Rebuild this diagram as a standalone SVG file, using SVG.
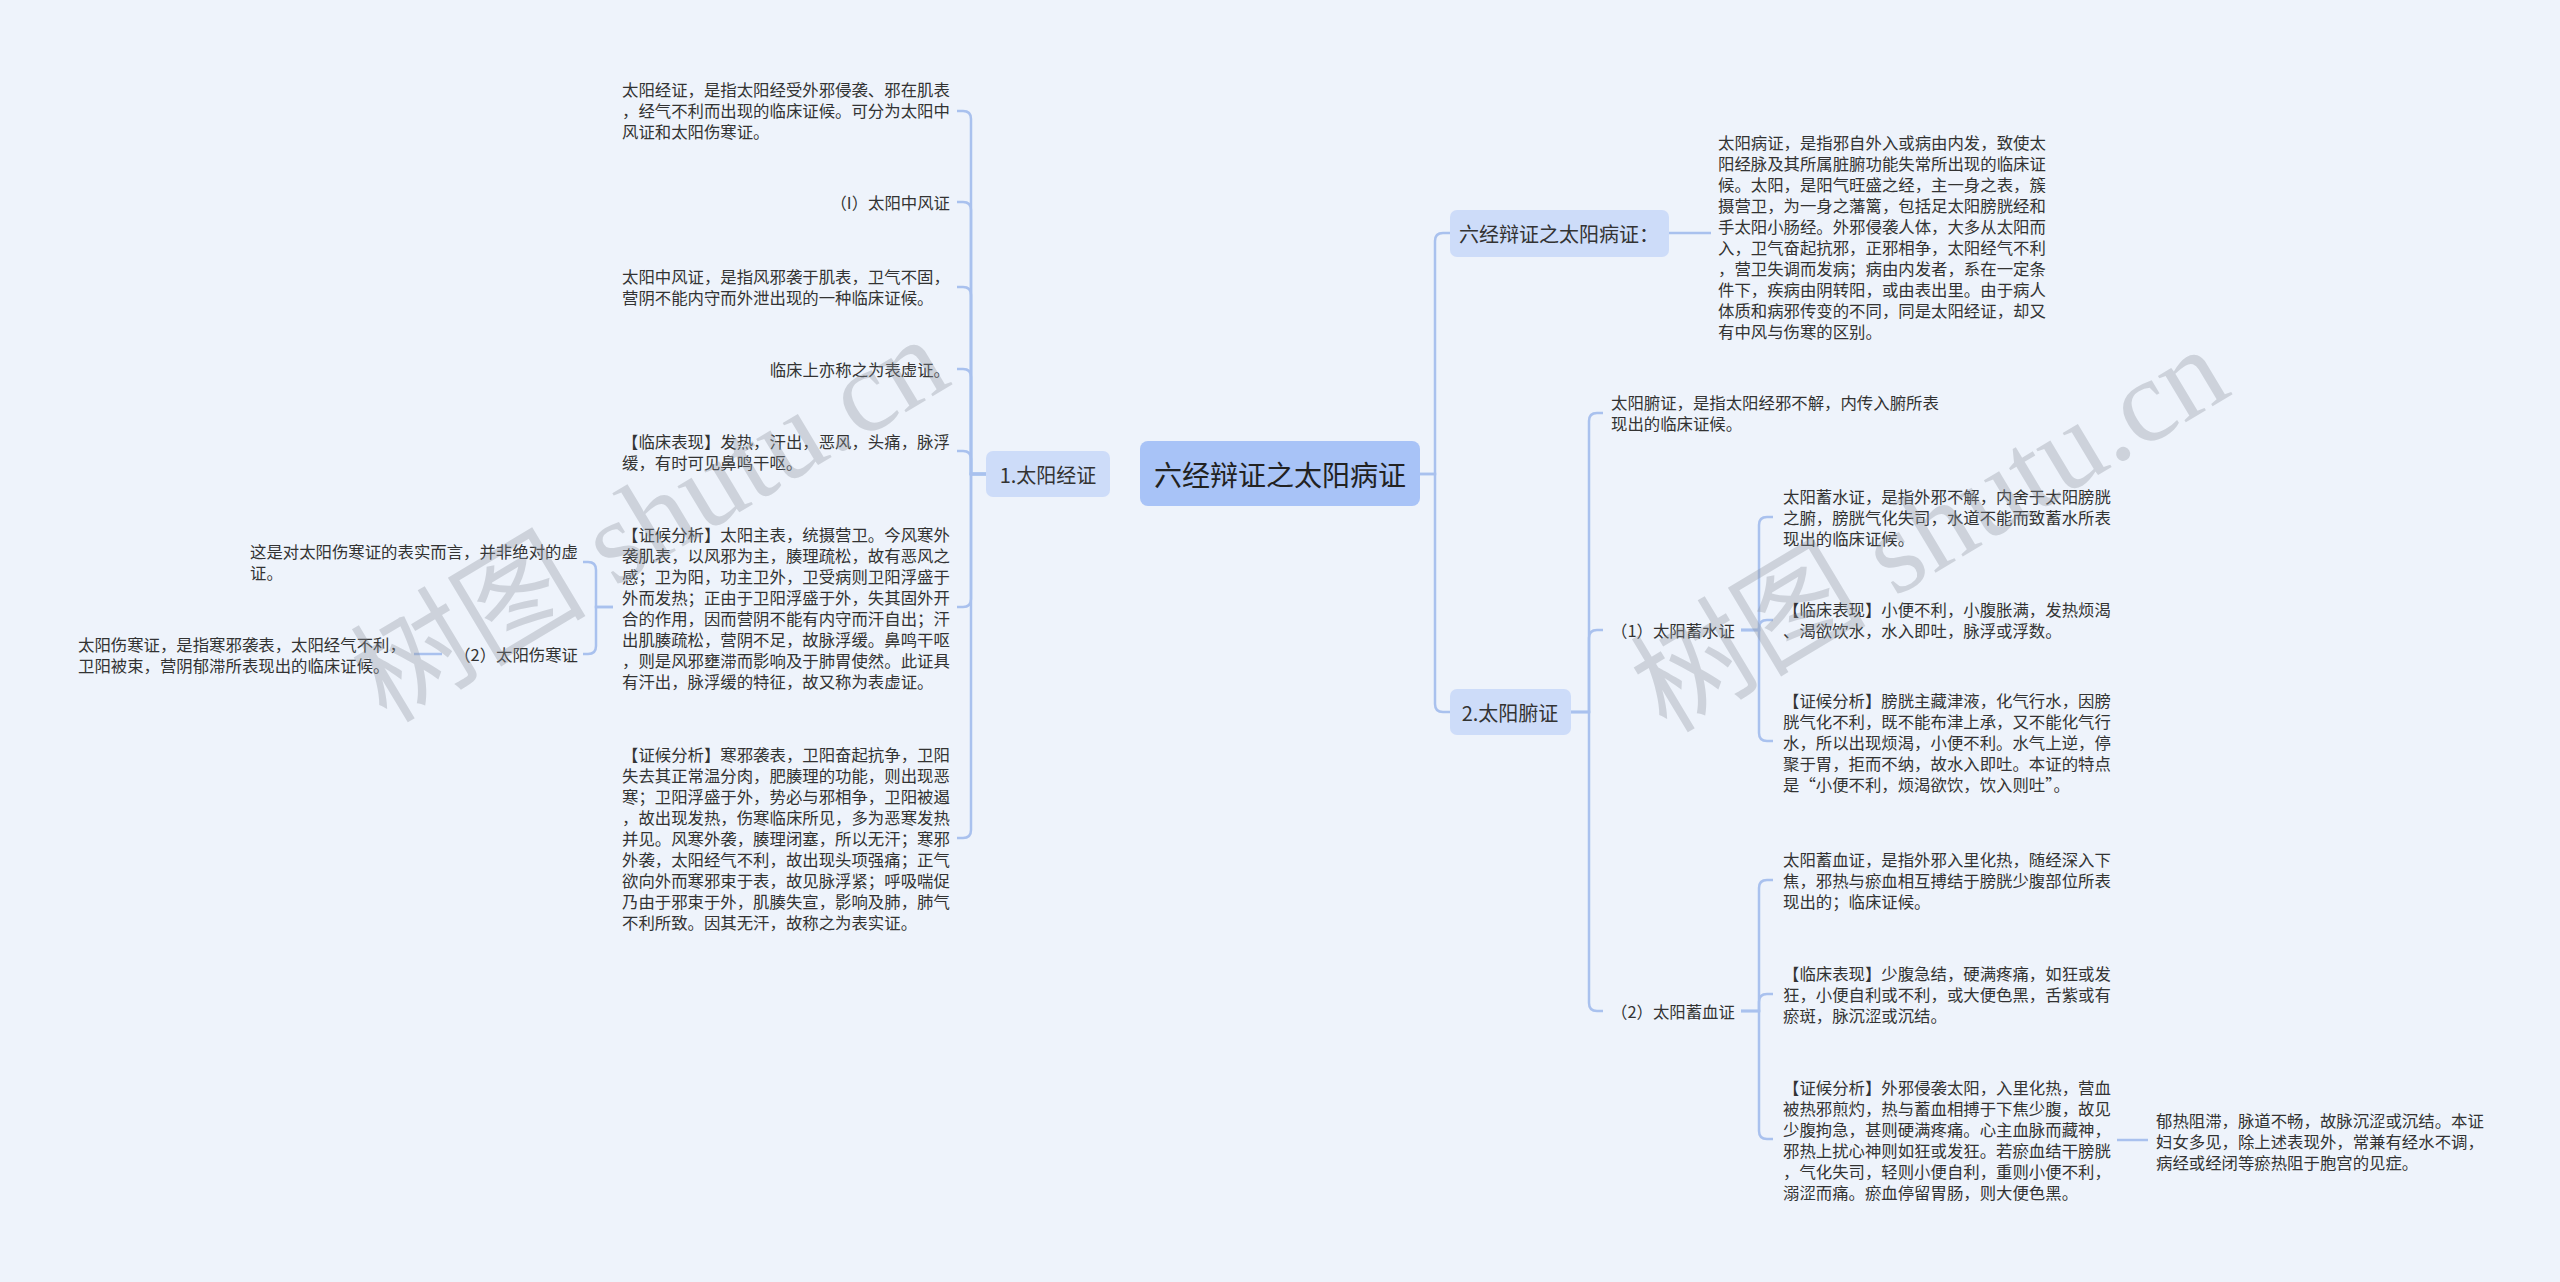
<svg xmlns="http://www.w3.org/2000/svg" width="2560" height="1282" viewBox="0 0 2560 1282">
<style>
.t{font-family:"Noto Sans CJK SC","Liberation Sans",sans-serif;font-size:16.4px;fill:#333;dominant-baseline:central}
.e{text-anchor:end}
.n{font-family:"Noto Sans CJK SC","Liberation Sans",sans-serif;font-size:20px;fill:#333;dominant-baseline:central;text-anchor:middle}
.r{font-family:"Noto Sans CJK SC","Liberation Sans",sans-serif;font-size:28px;fill:#222;dominant-baseline:central;text-anchor:middle}
.c{fill:none;stroke:#a9c1ee;stroke-width:2.5}
.b1{fill:#cddcf9}
.b0{fill:#a8c3f7}
.wm{font-family:"Liberation Serif","Noto Sans CJK SC",serif;font-size:118px;fill:#8c929c;opacity:0.33;text-anchor:middle;dominant-baseline:central}
</style>
<rect x="0" y="0" width="2560" height="1282" fill="#eef3fb"/>

<g id="connectors">
<path class="c" d="M986,474 H971 V119 Q971,111 963,111 H957"/>
<path class="c" d="M986,474 H971 V210 Q971,202 963,202 H957"/>
<path class="c" d="M986,474 H971 V295 Q971,287 963,287 H957"/>
<path class="c" d="M986,474 H971 V377 Q971,369 963,369 H957"/>
<path class="c" d="M986,474 H971 V459 Q971,451 963,451 H957"/>
<path class="c" d="M986,474 H971 V599 Q971,607 963,607 H957"/>
<path class="c" d="M986,474 H971 V830 Q971,838 963,838 H957"/>
<path class="c" d="M613,607 H596 V570 Q596,562 588,562 H583"/>
<path class="c" d="M613,607 H596 V646 Q596,654 588,654 H583"/>
<path class="c" d="M442,654 H414"/>
<path class="c" d="M1420,474 H1435 V241 Q1435,233 1443,233 H1450"/>
<path class="c" d="M1420,474 H1435 V704 Q1435,712 1443,712 H1450"/>
<path class="c" d="M1669,233 H1711"/>
<path class="c" d="M1571,712 H1589 V421 Q1589,413 1597,413 H1603"/>
<path class="c" d="M1571,712 H1589 V638 Q1589,630 1597,630 H1603"/>
<path class="c" d="M1571,712 H1589 V1003 Q1589,1011 1597,1011 H1603"/>
<path class="c" d="M1741,630 H1759 V525 Q1759,517 1767,517 H1773"/>
<path class="c" d="M1741,630 H1759 V628 Q1759,620 1767,620 H1773"/>
<path class="c" d="M1741,630 H1759 V733 Q1759,741 1767,741 H1773"/>
<path class="c" d="M1741,1011 H1759 V888 Q1759,880 1767,880 H1773"/>
<path class="c" d="M1741,1011 H1759 V1002 Q1759,994 1767,994 H1773"/>
<path class="c" d="M1741,1011 H1759 V1131 Q1759,1139 1767,1139 H1773"/>
<path class="c" d="M2117,1140 H2148"/>
</g>

<g id="root">
<rect class="b0" x="1140" y="441" width="280" height="65" rx="8"/>
<text class="r" x="1280" y="474">六经辩证之太阳病证</text>
</g>

<g id="n-jingzheng">
<rect class="b1" x="986" y="451" width="124" height="46" rx="7"/>
<text class="n" x="1048" y="474">1.太阳经证</text>
</g>

<g id="n-bingzheng">
<rect class="b1" x="1450" y="210" width="219" height="47" rx="7"/>
<text class="n" x="1559" y="233">六经辩证之太阳病证：</text>
</g>

<g id="n-fuzheng">
<rect class="b1" x="1450" y="689" width="121" height="46" rx="7"/>
<text class="n" x="1510" y="712">2.太阳腑证</text>
</g>

<g id="l1">
<text class="t" x="622" y="89">太阳经证，是指太阳经受外邪侵袭、邪在肌表</text>
<text class="t" x="622" y="110">，经气不利而出现的临床证候。可分为太阳中</text>
<text class="t" x="622" y="131">风证和太阳伤寒证。</text>
</g>
<g id="l2"><text class="t e" x="950" y="202">（I）太阳中风证</text></g>
<g id="l3">
<text class="t" x="622" y="276">太阳中风证，是指风邪袭于肌表，卫气不固，</text>
<text class="t" x="622" y="297">营阴不能内守而外泄出现的一种临床证候。</text>
</g>
<g id="l4"><text class="t e" x="950" y="369">临床上亦称之为表虚证。</text></g>
<g id="l5">
<text class="t" x="622" y="441">【临床表现】发热，汗出，恶风，头痛，脉浮</text>
<text class="t" x="622" y="462">缓，有时可见鼻鸣干呕。</text>
</g>
<g id="l6">
<text class="t" x="622" y="534">【证候分析】太阳主表，统摄营卫。今风寒外</text>
<text class="t" x="622" y="555">袭肌表，以风邪为主，腠理疏松，故有恶风之</text>
<text class="t" x="622" y="576">感；卫为阳，功主卫外，卫受病则卫阳浮盛于</text>
<text class="t" x="622" y="597">外而发热；正由于卫阳浮盛于外，失其固外开</text>
<text class="t" x="622" y="618">合的作用，因而营阴不能有内守而汗自出；汗</text>
<text class="t" x="622" y="639">出肌腠疏松，营阴不足，故脉浮缓。鼻鸣干呕</text>
<text class="t" x="622" y="660">，则是风邪壅滞而影响及于肺胃使然。此证具</text>
<text class="t" x="622" y="681">有汗出，脉浮缓的特征，故又称为表虚证。</text>
</g>
<g id="l6a">
<text class="t" x="250" y="551">这是对太阳伤寒证的表实而言，并非绝对的虚</text>
<text class="t" x="250" y="572">证。</text>
</g>
<g id="l6b"><text class="t e" x="578" y="654">（2）太阳伤寒证</text></g>
<g id="l6b1">
<text class="t" x="78" y="644">太阳伤寒证，是指寒邪袭表，太阳经气不利，</text>
<text class="t" x="78" y="665">卫阳被束，营阴郁滞所表现出的临床证候。</text>
</g>
<g id="l7">
<text class="t" x="622" y="754">【证候分析】寒邪袭表，卫阳奋起抗争，卫阳</text>
<text class="t" x="622" y="775">失去其正常温分肉，肥腠理的功能，则出现恶</text>
<text class="t" x="622" y="796">寒；卫阳浮盛于外，势必与邪相争，卫阳被遏</text>
<text class="t" x="622" y="817">，故出现发热，伤寒临床所见，多为恶寒发热</text>
<text class="t" x="622" y="838">并见。风寒外袭，腠理闭塞，所以无汗；寒邪</text>
<text class="t" x="622" y="859">外袭，太阳经气不利，故出现头项强痛；正气</text>
<text class="t" x="622" y="880">欲向外而寒邪束于表，故见脉浮紧；呼吸喘促</text>
<text class="t" x="622" y="901">乃由于邪束于外，肌腠失宣，影响及肺，肺气</text>
<text class="t" x="622" y="922">不利所致。因其无汗，故称之为表实证。</text>
</g>

<g id="r1">
<text class="t" x="1718" y="142">太阳病证，是指邪自外入或病由内发，致使太</text>
<text class="t" x="1718" y="163">阳经脉及其所属脏腑功能失常所出现的临床证</text>
<text class="t" x="1718" y="184">候。太阳，是阳气旺盛之经，主一身之表，簇</text>
<text class="t" x="1718" y="205">摄营卫，为一身之藩篱，包括足太阳膀胱经和</text>
<text class="t" x="1718" y="226">手太阳小肠经。外邪侵袭人体，大多从太阳而</text>
<text class="t" x="1718" y="247">入，卫气奋起抗邪，正邪相争，太阳经气不利</text>
<text class="t" x="1718" y="268">，营卫失调而发病；病由内发者，系在一定条</text>
<text class="t" x="1718" y="289">件下，疾病由阴转阳，或由表出里。由于病人</text>
<text class="t" x="1718" y="310">体质和病邪传变的不同，同是太阳经证，却又</text>
<text class="t" x="1718" y="331">有中风与伤寒的区别。</text>
</g>
<g id="r2">
<text class="t" x="1611" y="402">太阳腑证，是指太阳经邪不解，内传入腑所表</text>
<text class="t" x="1611" y="423">现出的临床证候。</text>
</g>
<g id="r3"><text class="t" x="1611" y="630">（1）太阳蓄水证</text></g>
<g id="r3a">
<text class="t" x="1783" y="496">太阳蓄水证，是指外邪不解，内舍于太阳膀胱</text>
<text class="t" x="1783" y="517">之腑，膀胱气化失司，水道不能而致蓄水所表</text>
<text class="t" x="1783" y="538">现出的临床证候。</text>
</g>
<g id="r3b">
<text class="t" x="1783" y="609">【临床表现】小便不利，小腹胀满，发热烦渴</text>
<text class="t" x="1783" y="630">、渴欲饮水，水入即吐，脉浮或浮数。</text>
</g>
<g id="r3c">
<text class="t" x="1783" y="700">【证候分析】膀胱主藏津液，化气行水，因膀</text>
<text class="t" x="1783" y="721">胱气化不利，既不能布津上承，又不能化气行</text>
<text class="t" x="1783" y="742">水，所以出现烦渴，小便不利。水气上逆，停</text>
<text class="t" x="1783" y="763">聚于胃，拒而不纳，故水入即吐。本证的特点</text>
<text class="t" x="1783" y="784">是“小便不利，烦渴欲饮，饮入则吐”。</text>
</g>
<g id="r4"><text class="t" x="1611" y="1011">（2）太阳蓄血证</text></g>
<g id="r4a">
<text class="t" x="1783" y="859">太阳蓄血证，是指外邪入里化热，随经深入下</text>
<text class="t" x="1783" y="880">焦，邪热与瘀血相互搏结于膀胱少腹部位所表</text>
<text class="t" x="1783" y="901">现出的；临床证候。</text>
</g>
<g id="r4b">
<text class="t" x="1783" y="973">【临床表现】少腹急结，硬满疼痛，如狂或发</text>
<text class="t" x="1783" y="994">狂，小便自利或不利，或大便色黑，舌紫或有</text>
<text class="t" x="1783" y="1015">瘀斑，脉沉涩或沉结。</text>
</g>
<g id="r4c">
<text class="t" x="1783" y="1087">【证候分析】外邪侵袭太阳，入里化热，营血</text>
<text class="t" x="1783" y="1108">被热邪煎灼，热与蓄血相搏于下焦少腹，故见</text>
<text class="t" x="1783" y="1129">少腹拘急，甚则硬满疼痛。心主血脉而藏神，</text>
<text class="t" x="1783" y="1150">邪热上扰心神则如狂或发狂。若瘀血结干膀胱</text>
<text class="t" x="1783" y="1171">，气化失司，轻则小便自利，重则小便不利，</text>
<text class="t" x="1783" y="1192">溺涩而痛。瘀血停留胃肠，则大便色黑。</text>
</g>
<g id="r4c1">
<text class="t" x="2156" y="1120">郁热阻滞，脉道不畅，故脉沉涩或沉结。本证</text>
<text class="t" x="2156" y="1141">妇女多见，除上述表现外，常兼有经水不调，</text>
<text class="t" x="2156" y="1162">病经或经闭等瘀热阻于胞宫的见症。</text>
</g>

<text class="wm" transform="translate(650,520) rotate(-31)">树图 shutu.cn</text>
<text class="wm" transform="translate(1930,530) rotate(-31)">树图 shutu.cn</text>
</svg>
